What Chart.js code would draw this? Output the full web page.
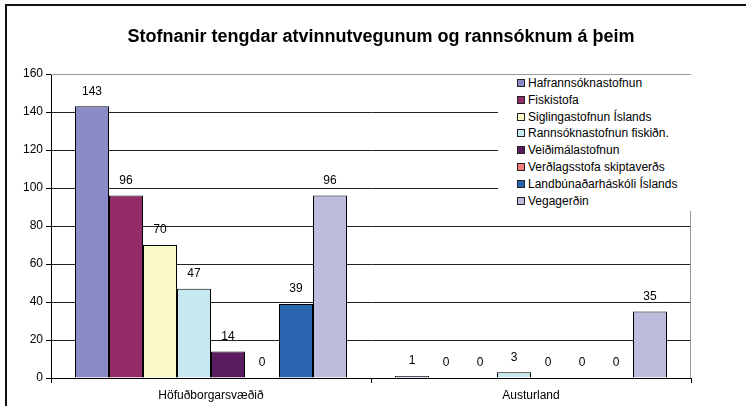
<!DOCTYPE html>
<html>
<head>
<meta charset="utf-8">
<script src="https://cdn.jsdelivr.net/npm/chart.js@4/dist/chart.umd.min.js"></script>
<style>
  body { margin: 0; background: #fff; }
  #wrap { position: relative; width: 746px; height: 406px; }
  #legend {
    position: absolute; left: 498px; top: 75px; width: 194px; height: 136px;
    background: #fff; font: 12px Arial, "Liberation Sans", sans-serif; color: #000;
  }
  .item { position: absolute; left: 19px; height: 14px; line-height: 14px; white-space: nowrap; }
  .item span.box {
    position: absolute; left: 0; top: 3px; width: 6px; height: 6px; border: 1px solid #222;
  }
  .item span.txt { position: absolute; left: 11px; top: 0; }
</style>
</head>
<body>
<div id="wrap">
  <canvas id="chart" width="746" height="406"></canvas>
  <div id="legend"></div>
</div>
<script>
const categories = ["Höfuðborgarsvæðið", "Austurland"];
const seriesNames = [
  "Hafrannsóknastofnun",
  "Fiskistofa",
  "Siglingastofnun Íslands",
  "Rannsóknastofnun fiskiðn.",
  "Veiðimálastofnun",
  "Verðlagsstofa skiptaverðs",
  "Landbúnaðarháskóli Íslands",
  "Vegagerðin",
];
const hafrannsokna = [143, 1];
const fiskistofa = [96, 0];
const siglingastofnun = [70, 0];
const rannsoknastofnun = [47, 3];
const veidimalastofnun = [14, 0];
const verdlagsstofa = [0, 0];
const landbunadarhaskoli = [39, 0];
const vegagerdin = [96, 35];
const yTicks = [0, 20, 40, 60, 80, 100, 120, 140, 160];

const seriesValues = [
  hafrannsokna, fiskistofa, siglingastofnun, rannsoknastofnun,
  veidimalastofnun, verdlagsstofa, landbunadarhaskoli, vegagerdin,
];
const colors = [
  "#8a8ac6", "#932b67", "#fafac8", "#c6e8f0",
  "#5a1c5e", "#f47e7e", "#2a66b0", "#bcbcdc",
];

const FONT = "Arial, 'Liberation Sans', sans-serif";

// legend drawn as html so it can sit inside the plot like the original
const legendEl = document.getElementById("legend");
seriesNames.forEach((name, i) => {
  const div = document.createElement("div");
  div.className = "item";
  div.style.top = (1 + i * 16.8) + "px";
  div.innerHTML = '<span class="box" style="background:' + colors[i] + '"></span><span class="txt"></span>';
  div.querySelector(".txt").textContent = name;
  legendEl.appendChild(div);
});

const frame = {
  id: "frame",
  beforeDraw(chart) {
    const { ctx } = chart;
    ctx.save();
    ctx.fillStyle = "#fff";
    ctx.fillRect(0, 0, chart.width, chart.height);
    ctx.strokeStyle = "#111";
    ctx.lineWidth = 2;
    ctx.beginPath();
    ctx.moveTo(6, chart.height);
    ctx.lineTo(6, 5);
    ctx.lineTo(chart.width, 5);
    ctx.stroke();
    // title
    ctx.fillStyle = "#000";
    ctx.font = "bold 18px " + FONT;
    ctx.textAlign = "center";
    ctx.textBaseline = "middle";
    ctx.fillText("Stofnanir tengdar atvinnutvegunum og rannsóknum á þeim", 381, 37);
    ctx.restore();
  },
  beforeDatasetsDraw(chart) {
    const { ctx, chartArea: a } = chart;
    ctx.save();
    ctx.strokeStyle = "#999";
    ctx.lineWidth = 1;
    ctx.beginPath();
    ctx.moveTo(a.left, a.top + 0.5);
    ctx.lineTo(a.right - 0.5, a.top + 0.5);
    ctx.lineTo(a.right - 0.5, a.bottom);
    ctx.stroke();
    ctx.restore();
  },
};

const valueLabels = {
  id: "valueLabels",
  afterDatasetsDraw(chart) {
    const { ctx } = chart;
    ctx.save();
    ctx.font = "12px " + FONT;
    ctx.fillStyle = "#000";
    ctx.textAlign = "center";
    ctx.textBaseline = "middle";
    chart.data.datasets.forEach((ds, i) => {
      chart.getDatasetMeta(i).data.forEach((bar, j) => {
        ctx.fillText(String(ds.data[j]), bar.x, bar.y - 15);
      });
    });
    ctx.restore();
  },
};

new Chart(document.getElementById("chart").getContext("2d"), {
  type: "bar",
  data: {
    labels: categories,
    datasets: seriesNames.map((name, i) => ({
      label: name,
      data: seriesValues[i],
      backgroundColor: colors[i],
      borderColor: "#000",
      borderWidth: 1,
      categoryPercentage: 0.85,
      barPercentage: 1,
    })),
  },
  options: {
    responsive: false,
    animation: false,
    layout: { padding: { left: 0, right: 55, top: 74, bottom: 0 } },
    plugins: {
      legend: { display: false },
      title: { display: false },
      tooltip: { enabled: false },
    },
    scales: {
      x: {
        afterFit(scale) { scale.height = 28; },
        grid: {
          drawOnChartArea: false,
          drawTicks: true,
          tickLength: 5,
          tickColor: "#000",
        },
        border: { color: "#000" },
        ticks: { color: "#000", font: { family: FONT, size: 12 }, padding: 5 },
      },
      y: {
        min: 0,
        max: 160,
        afterFit(scale) { scale.width = 51; },
        afterBuildTicks(scale) { scale.ticks = yTicks.map((v) => ({ value: v })); },
        grid: {
          color: (c) => (c.tick && c.tick.value === 160 ? "#999" : "#222"),
          tickColor: "#000",
          tickLength: 5,
        },
        border: { color: "#000" },
        ticks: { color: "#000", font: { family: FONT, size: 12 }, padding: 3 },
      },
    },
  },
  plugins: [frame, valueLabels],
});
</script>
</body>
</html>
